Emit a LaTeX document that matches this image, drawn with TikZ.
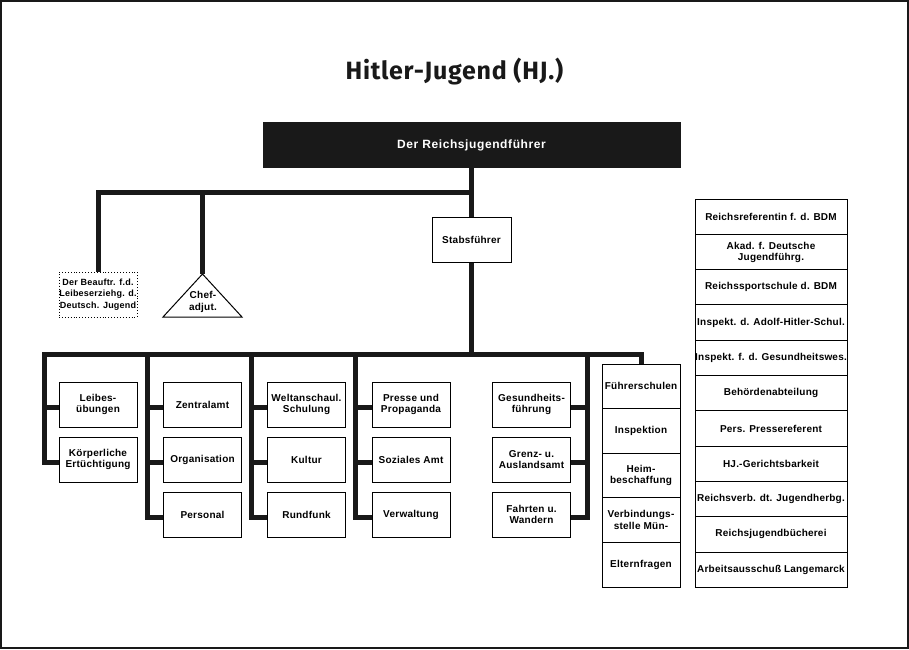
\documentclass[tikz,border=0pt]{standalone}
\usepackage{fontspec}
\setmainfont{Liberation Sans}
\newfontfamily\boxfont[LetterSpace=2.5]{Liberation Sans}
\newfontfamily\stackfont[LetterSpace=2]{Liberation Sans}
\newfontfamily\headfont[LetterSpace=5]{Liberation Sans}
\newfontfamily\titlefont[LetterSpace=3]{Fira Sans}
\begin{document}
\begin{tikzpicture}[x=1pt,y=-1pt,
  bar/.style={line width=5pt,line join=miter,line cap=butt,black!90},
  obox/.style={draw,line width=1pt,minimum width=78pt,minimum height=45pt,inner sep=0pt,align=center,
    font=\boxfont\bfseries\fontsize{10}{11.5}\selectfont},
  fbox/.style={obox,minimum height=44.6pt},
  sbox/.style={draw,line width=1pt,minimum width=152pt,minimum height=35.3pt,inner sep=0pt,align=center,
    font=\stackfont\bfseries\fontsize{10}{11}\selectfont},
  ]
\useasboundingbox (0,0) rectangle (909,649);
\draw[line width=2pt,black!90] (1,1) rectangle (908,648);
% title
\node[anchor=base,font=\titlefont\bfseries\fontsize{25}{29}\selectfont,text=black!90] (title) at (454.5,79) {Hitler-Jugend (HJ.)};
% top box
\node[fill=black!90,minimum width=418pt,minimum height=46pt,inner sep=0pt,text=white,
  font=\headfont\bfseries\fontsize{12}{14}\selectfont] (rjf) at (471.5,145) {Der Reichsjugendführer};
\node[obox,minimum width=79pt] (stab) at (471.5,239.5) {Stabsführer};
\node[draw,dotted,line width=0.9pt,minimum width=78pt,minimum height=45pt,inner sep=0pt,align=center,
  font=\boxfont\bfseries\fontsize{9}{11.2}\selectfont] (beauf) at (98,294.5) {Der Beauftr. f.d.\\Leibeserziehg. d.\\Deutsch. Jugend};
% triangle
\coordinate (chefapex) at (202.5,274);
\draw[line width=1pt,line join=miter] (chefapex) -- (242,317) -- (163,317) -- cycle;
\node[align=center,inner sep=0pt,font=\boxfont\bfseries\fontsize{10}{11.5}\selectfont] (chef) at (203,302) {Chef-\\adjut.};
% columns
\node[obox] (leib) at (98,404.5) {Leibes-\\übungen};
\node[obox] (koerp) at (98,459.5) {Körperliche\\Ertüchtigung};
\node[obox] (zentral) at (202.5,404.5) {Zentralamt};
\node[obox] (org) at (202.5,459.5) {Organisation};
\node[obox] (pers) at (202.5,514.5) {Personal};
\node[obox] (welt) at (306.5,404.5) {Weltanschaul.\\Schulung};
\node[obox] (kultur) at (306.5,459.5) {Kultur};
\node[obox] (rund) at (306.5,514.5) {Rundfunk};
\node[obox] (presse) at (411,404.5) {Presse und\\Propaganda};
\node[obox] (sozial) at (411,459.5) {Soziales Amt};
\node[obox] (verw) at (411,514.5) {Verwaltung};
\node[obox] (gesund) at (531.5,404.5) {Gesundheits-\\führung};
\node[obox] (grenz) at (531.5,459.5) {Grenz- u.\\Auslandsamt};
\node[obox] (fahrt) at (531.5,514.5) {Fahrten u.\\Wandern};
% Führerschulen stack
\node[fbox] (fuehr) at (641,386.3) {Führerschulen};
\node[fbox] (insp) at (641,430.9) {Inspektion};
\node[fbox] (heim) at (641,475.5) {Heim-\\beschaffung};
\node[fbox] (verb) at (641,520.1) {Verbindungs-\\stelle Mün-};
\node[fbox] (eltern) at (641,564.7) {Elternfragen};
% right stack
\node[sbox] (s1) at (771,216.65) {Reichsreferentin f. d. BDM};
\node[sbox] (s2) at (771,251.95) {Akad. f. Deutsche\\Jugendführg.};
\node[sbox] (s3) at (771,287.25) {Reichssportschule d. BDM};
\node[sbox] (s4) at (771,322.55) {Inspekt. d. Adolf-Hitler-Schul.};
\node[sbox] (s5) at (771,357.85) {Inspekt. f. d. Gesundheitswes.};
\node[sbox] (s6) at (771,393.15) {Behördenabteilung};
\node[sbox] (s7) at (771,428.45) {Pers. Pressereferent};
\node[sbox] (s8) at (771,463.75) {HJ.-Gerichtsbarkeit};
\node[sbox] (s9) at (771,499.05) {Reichsverb. dt. Jugendherbg.};
\node[sbox] (s10) at (771,534.35) {Reichsjugendbücherei};
\node[sbox] (s11) at (771,569.65) {Arbeitsausschuß Langemarck};
% bar coordinates
\coordinate (topbar) at (471.5,192.5);
\coordinate (c1top) at (44.5,354.5);
\coordinate (c2top) at (147.5,354.5);
\coordinate (c3top) at (251.5,354.5);
\coordinate (c4top) at (355.5,354.5);
\coordinate (c5top) at (587.5,354.5);
% connectors top
\draw[bar] (rjf.south) -- (stab.north);
\draw[bar] (beauf.north) |- (topbar);
\draw[bar] (chefapex) -- (chefapex |- topbar);
\draw[bar] (stab.south) -- (stab.south |- c1top);
% main bar
\tikzset{low/.style={yshift=-2.5pt}}
\draw[bar] ([low]koerp.west) -| (c1top) -| (fuehr.north);
\draw[bar] ([low]leib.west) -- ([low]leib.west -| c1top);
\draw[bar] (c2top) |- ([low]pers.west);
\draw[bar] ([low]zentral.west) -- ([low]zentral.west -| c2top);
\draw[bar] ([low]org.west) -- ([low]org.west -| c2top);
\draw[bar] (c3top) |- ([low]rund.west);
\draw[bar] ([low]welt.west) -- ([low]welt.west -| c3top);
\draw[bar] ([low]kultur.west) -- ([low]kultur.west -| c3top);
\draw[bar] (c4top) |- ([low]verw.west);
\draw[bar] ([low]presse.west) -- ([low]presse.west -| c4top);
\draw[bar] ([low]sozial.west) -- ([low]sozial.west -| c4top);
\draw[bar] (c5top) |- ([low]fahrt.east);
\draw[bar] ([low]gesund.east) -- ([low]gesund.east -| c5top);
\draw[bar] ([low]grenz.east) -- ([low]grenz.east -| c5top);
\end{tikzpicture}
\end{document}
